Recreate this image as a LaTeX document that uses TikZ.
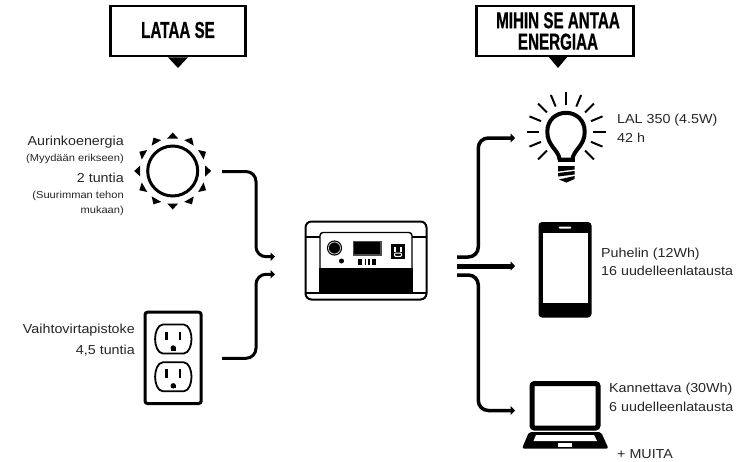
\documentclass[tikz,border=0pt]{standalone}
\usepackage{fontspec}
\usepackage{graphicx}
\setmainfont[FakeStretch=1.1]{Liberation Sans}
\newfontfamily\hdfont[BoldFeatures={FakeBold=0.9}]{Liberation Sans}
\usetikzlibrary{arrows.meta,calc}
\tikzset{
  headbox/.style={draw=black,line width=2.6pt,fill=white,minimum height=50pt,inner sep=0pt,align=center},
  headtext/.style={font=\hdfont\fontsize{23}{21.4}\selectfont\bfseries,inner sep=0pt,align=center},
  linkin/.style={draw=black,line width=3pt,rounded corners=10pt,-{Triangle[length=4.5pt,width=8.5pt]}},
  linkout/.style={draw=black,line width=3.5pt,rounded corners=10pt,-{Triangle[length=4.5pt,width=9pt]}},
  linkmid/.style={draw=black,line width=5pt,-{Triangle[length=4.5pt,width=9pt]}},
  lab/.style={font=\fontsize{13}{19}\selectfont,inner sep=0pt,anchor=base west,text=black!85},
  labr/.style={font=\fontsize{13}{19}\selectfont,inner sep=0pt,anchor=base east,text=black!85},
  small/.style={font=\fontsize{10.1}{12}\selectfont,inner sep=0pt,anchor=base east,text=black!85}
}
\newcommand{\hdtxt}[1]{\scalebox{0.66}[1]{#1}}
\newcommand{\recep}[2]{%
  \begin{scope}[shift={(#1,#2)}]
    \draw[line width=1.8pt,line join=round] (-10.5,-14.5) -- (10.5,-14.5) .. controls (16,-14) and (18.2,-6) .. (18.2,0) .. controls (18.2,6) and (16,14) .. (10.5,14.5) -- (-10.5,14.5) .. controls (-16,14) and (-18.2,6) .. (-18.2,0) .. controls (-18.2,-6) and (-16,-14) .. (-10.5,-14.5) -- cycle;
    \fill (-8,-7.5) rectangle (-5.2,1);
    \fill (5.2,-7.5) rectangle (8,1);
    \fill (0,9) circle (2.7);
    \fill (-2.7,9) rectangle (2.7,11.6);
  \end{scope}}
\begin{document}
\begin{tikzpicture}[x=1pt,y=-1pt]
\useasboundingbox (0,0) rectangle (745,461);
\fill[white] (0,0) rectangle (745,461);

% headers
\node[headbox,minimum width=135pt] (h1) at (178,31) {};
\node[headtext] (h1t) at (178,30) {\hdtxt{LATAA SE}};
\fill ($(h1.south)+(-10,0)$) -- ($(h1.south)+(10,0)$) -- (178,68) -- cycle;
\node[headbox,minimum width=157pt] (h2) at (555,31) {};
\node[headtext] (h2t) at (558,31) {\hdtxt{MIHIN SE ANTAA}\\\hdtxt{ENERGIAA}};
\fill (548,56) -- (568,56) -- (558,68) -- cycle;

% left labels
\node[labr] (a1) at (124,145) {Aurinkoenergia};
\node[small] (a2) at (124,161) {(Myydään erikseen)};
\node[labr] (a3) at (124,182) {2 tuntia};
\node[small] (a4) at (124,198) {(Suurimman tehon};
\node[small] (a5) at (124,213) {mukaan)};
\node[labr] (v1) at (135,333) {Vaihtovirtapistoke};
\node[labr] (v2) at (135,354) {4,5 tuntia};

% sun
\coordinate (sun) at (172.7,171);
\draw[line width=3pt] (sun) circle (25);
\foreach \a in {0,30,...,330}{
  \fill[rotate around={\a:(sun)}] ($(sun)+(32.5,-5.5)$) -- ($(sun)+(38.5,0)$) -- ($(sun)+(32.5,5.5)$) -- cycle;
}
\coordinate (sunout) at (222,171.5);

% wall plate
\draw[line width=3pt,rounded corners=2.5pt] (145,312.2) rectangle (201.2,403.5);
\recep{173.3}{339}
\recep{173.3}{376.8}
\coordinate (plugout) at (222,358.3);

% power station
\coordinate (stA) at (275,256.7);
\coordinate (stB) at (275,274.3);
\draw[line width=2pt,rounded corners=6pt] (305.5,221.5) rectangle (426.5,299.5);
\draw[line width=1.4pt] (305.5,237) -- (320,237) (412,237) -- (426.5,237);
\draw[line width=1.4pt,rounded corners=3pt] (320,268) -- (320,232.5) -- (412,232.5) -- (412,268);
\fill (319.3,268) rectangle (412.7,293);
\draw[line width=1.8pt] (305.5,293) -- (426.5,293);
\fill (334.5,248) circle (7.6);
\draw[white,line width=.6pt] (334.5,248) circle (6);
\fill (341.5,261) circle (2.5);
\draw[line width=1.2pt,draw=black!70,fill=black] (353.5,241.5) rectangle (381,255);
\fill (358,258.5) rectangle (362.3,265);
\fill (364.5,258.5) rectangle (365.8,265);
\fill (368,258.5) rectangle (369.5,265);
\fill (372,258.5) rectangle (376,265);
\fill (391,244) rectangle (405,259);
\fill[white] (393.8,246.5) rectangle (395.6,251.5);
\fill[white] (400.4,246.5) rectangle (402.2,251.5);
\draw[white,line width=1pt,rounded corners=1pt] (394.5,253) rectangle (401.5,256.3);
\coordinate (stR1) at (457,257);
\coordinate (stR2) at (457,266);
\coordinate (stR3) at (457,275);

% bulb
\coordinate (bulb) at (566,131.5);
\foreach \a in {0,22.5,45,-22.5,-45,-67.5,-90,-112.5,-135,-157.5,180,157.5,135}{
  \draw[line width=2pt] ($(bulb)+(\a:27)$) -- ($(bulb)+(\a:39.5)$);
}
\draw[line width=4pt,line join=round] (559.5,159.5) .. controls (559,150) and (547,146) .. (547.3,131.5) .. controls (547.3,120) and (556,112.8) .. (566,112.8) .. controls (576,112.8) and (584.7,120) .. (584.7,131.5) .. controls (585,146) and (573,150) .. (572.5,159.5) -- cycle;
\fill (557.5,157.5) rectangle (574.5,162);
\fill (558,166) -- (574.5,166) -- (574.5,169.5) -- (558,171.5) -- cycle;
\fill (574.5,171) -- (574.5,174.5) -- (558,176.5) -- (558,173) -- cycle;
\fill (574.5,176) -- (574.5,179) -- (566.5,182.5) -- (559,179.5) -- cycle;
\coordinate (bulbin) at (515,138);

% phone
\fill[rounded corners=3.5pt] (538.5,222) rectangle (591.5,317.5);
\fill[white] (543,233) rectangle (588,303);
\fill[white,rounded corners=.6pt] (559,226.5) rectangle (571,228.5);
\coordinate (phonein) at (515,266);

% laptop
\draw[line width=5pt,rounded corners=2.5pt] (532,383.5) rectangle (598,428);
\fill[rounded corners=2pt] (529,432) -- (601,432) -- (608.5,448.5) -- (522,448.5) -- cycle;
\fill[white] (536,435) -- (594,435) -- (597,441) -- (533.5,441) -- cycle;
\fill[white] (558,443) rectangle (572,447.3);
\coordinate (laptopin) at (515,410.5);

% connectors
\draw[linkin] (sunout) -- (256,171.5) -- (256,256.7) -- (stA);
\draw[linkin] (plugout) -- (256,358.3) -- (256,274.3) -- (stB);
\draw[linkout] (stR1) -- (478.3,257) -- (478.3,138) -- (bulbin);
\draw[linkmid] (stR2) -- (phonein);
\draw[linkout] (stR3) -- (478.3,275) -- (478.3,410.5) -- (laptopin);

% right labels
\node[lab] (l1) at (617,123) {LAL 350 (4.5W)};
\node[lab] (l2) at (617,142) {42 h};
\node[lab] (p1) at (601,257) {Puhelin (12Wh)};
\node[lab] (p2) at (601,275) {16 uudelleenlatausta};
\node[lab] (k1) at (609,392) {Kannettava (30Wh)};
\node[lab] (k2) at (609,411) {6 uudelleenlatausta};
\node[lab] (m) at (617,458) {+ MUITA};
\end{tikzpicture}
\end{document}
